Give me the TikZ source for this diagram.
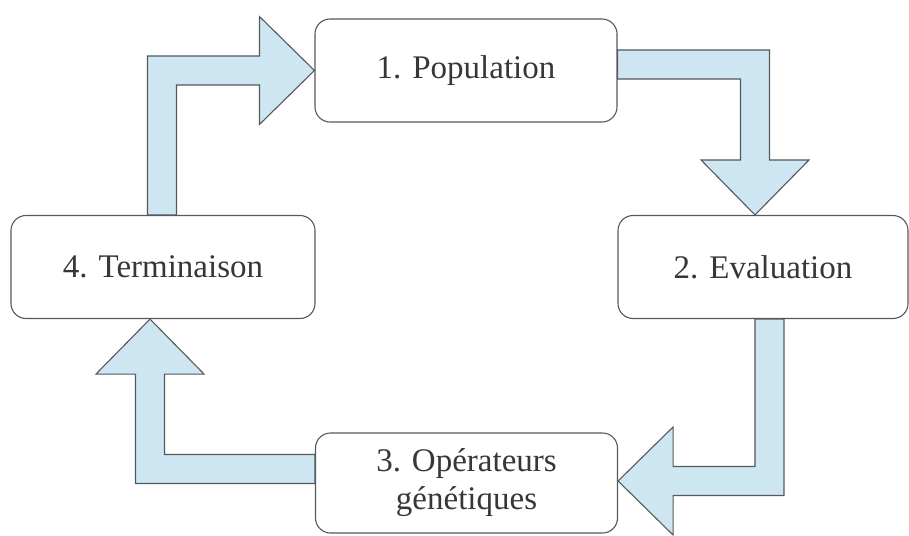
\documentclass[tikz,border=0pt]{standalone}
\usepackage{fontspec}
\setmainfont{Liberation Serif}
\usetikzlibrary{positioning, calc}
\definecolor{bleuclair}{RGB}{206,230,242}
\definecolor{trait}{RGB}{85,88,92}
\definecolor{texte}{RGB}{55,55,58}
\tikzset{boite/.style={draw=trait, line width=1.1pt, rounded corners=15pt, fill=white,
    minimum width=302pt, minimum height=103pt, align=center, text=texte,
    font=\fontsize{33}{38}\selectfont}}
\tikzset{bloc/.style={draw=trait, line width=1.1pt, fill=bleuclair, line join=miter}}
\def\sw{14.5}
\def\hw{54}
\def\hl{55}

\begin{document}
\begin{tikzpicture}[x=1pt, y=-1pt]
          \useasboundingbox (0,0) rectangle (909,535);

          \node[boite] (p) at (466,70.5) {1. Population};
          \node[boite, minimum width=290pt] (e) at ($(p)+(297,196.5)$) {2. Evaluation};
          \node[boite, minimum height=100pt] (o) at ($(p)+(0.5,412.5)$) {3. Op\'erateurs\\g\'en\'etiques};
          \node[boite, minimum width=304pt] (t) at ($(p)+(-303,196.5)$) {4. Terminaison};

          % Terminaison -> Population
          \coordinate (a1s) at ($(t.north)+(-1,0)$);
          \coordinate (a1t) at (p.west);
          \draw[bloc] ($(a1s)+(-\sw,0)$) -- ($(a1s |- a1t)+(-\sw,-\sw)$)
            -- ($(a1t)+(-\hl,-\sw)$) -- ($(a1t)+(-\hl,-\hw)$) -- (a1t)
            -- ($(a1t)+(-\hl,\hw)$) -- ($(a1t)+(-\hl,\sw)$)
            -- ($(a1s |- a1t)+(\sw,\sw)$) -- ($(a1s)+(\sw,0)$) -- cycle;

          % Population -> Evaluation
          \coordinate (a2s) at ($(p.east)+(0,-6)$);
          \coordinate (a2t) at ($(e.north)+(-8,0)$);
          \draw[bloc] ($(a2s)+(0,-\sw)$) -- ($(a2t |- a2s)+(\sw,-\sw)$)
            -- ($(a2t)+(\sw,-\hl)$) -- ($(a2t)+(\hw,-\hl)$) -- (a2t)
            -- ($(a2t)+(-\hw,-\hl)$) -- ($(a2t)+(-\sw,-\hl)$)
            -- ($(a2t |- a2s)+(-\sw,\sw)$) -- ($(a2s)+(0,\sw)$) -- cycle;

          % Evaluation -> Operateurs
          \coordinate (a3s) at ($(e.south)+(6.5,0)$);
          \coordinate (a3t) at ($(o.east)+(0,-2)$);
          \draw[bloc] ($(a3s)+(\sw,0)$) -- ($(a3s |- a3t)+(\sw,\sw)$)
            -- ($(a3t)+(\hl,\sw)$) -- ($(a3t)+(\hl,\hw)$) -- (a3t)
            -- ($(a3t)+(\hl,-\hw)$) -- ($(a3t)+(\hl,-\sw)$)
            -- ($(a3s |- a3t)+(-\sw,-\sw)$) -- ($(a3s)+(-\sw,0)$) -- cycle;

          % Operateurs -> Terminaison
          \coordinate (a4s) at ($(o.west)+(0,-14)$);
          \coordinate (a4t) at ($(t.south)+(-13,0)$);
          \draw[bloc] ($(a4s)+(0,\sw)$) -- ($(a4t |- a4s)+(-\sw,\sw)$)
            -- ($(a4t)+(-\sw,\hl)$) -- ($(a4t)+(-\hw,\hl)$) -- (a4t)
            -- ($(a4t)+(\hw,\hl)$) -- ($(a4t)+(\sw,\hl)$)
            -- ($(a4t |- a4s)+(\sw,-\sw)$) -- ($(a4s)+(0,-\sw)$) -- cycle;
        \end{tikzpicture}
\end{document}
